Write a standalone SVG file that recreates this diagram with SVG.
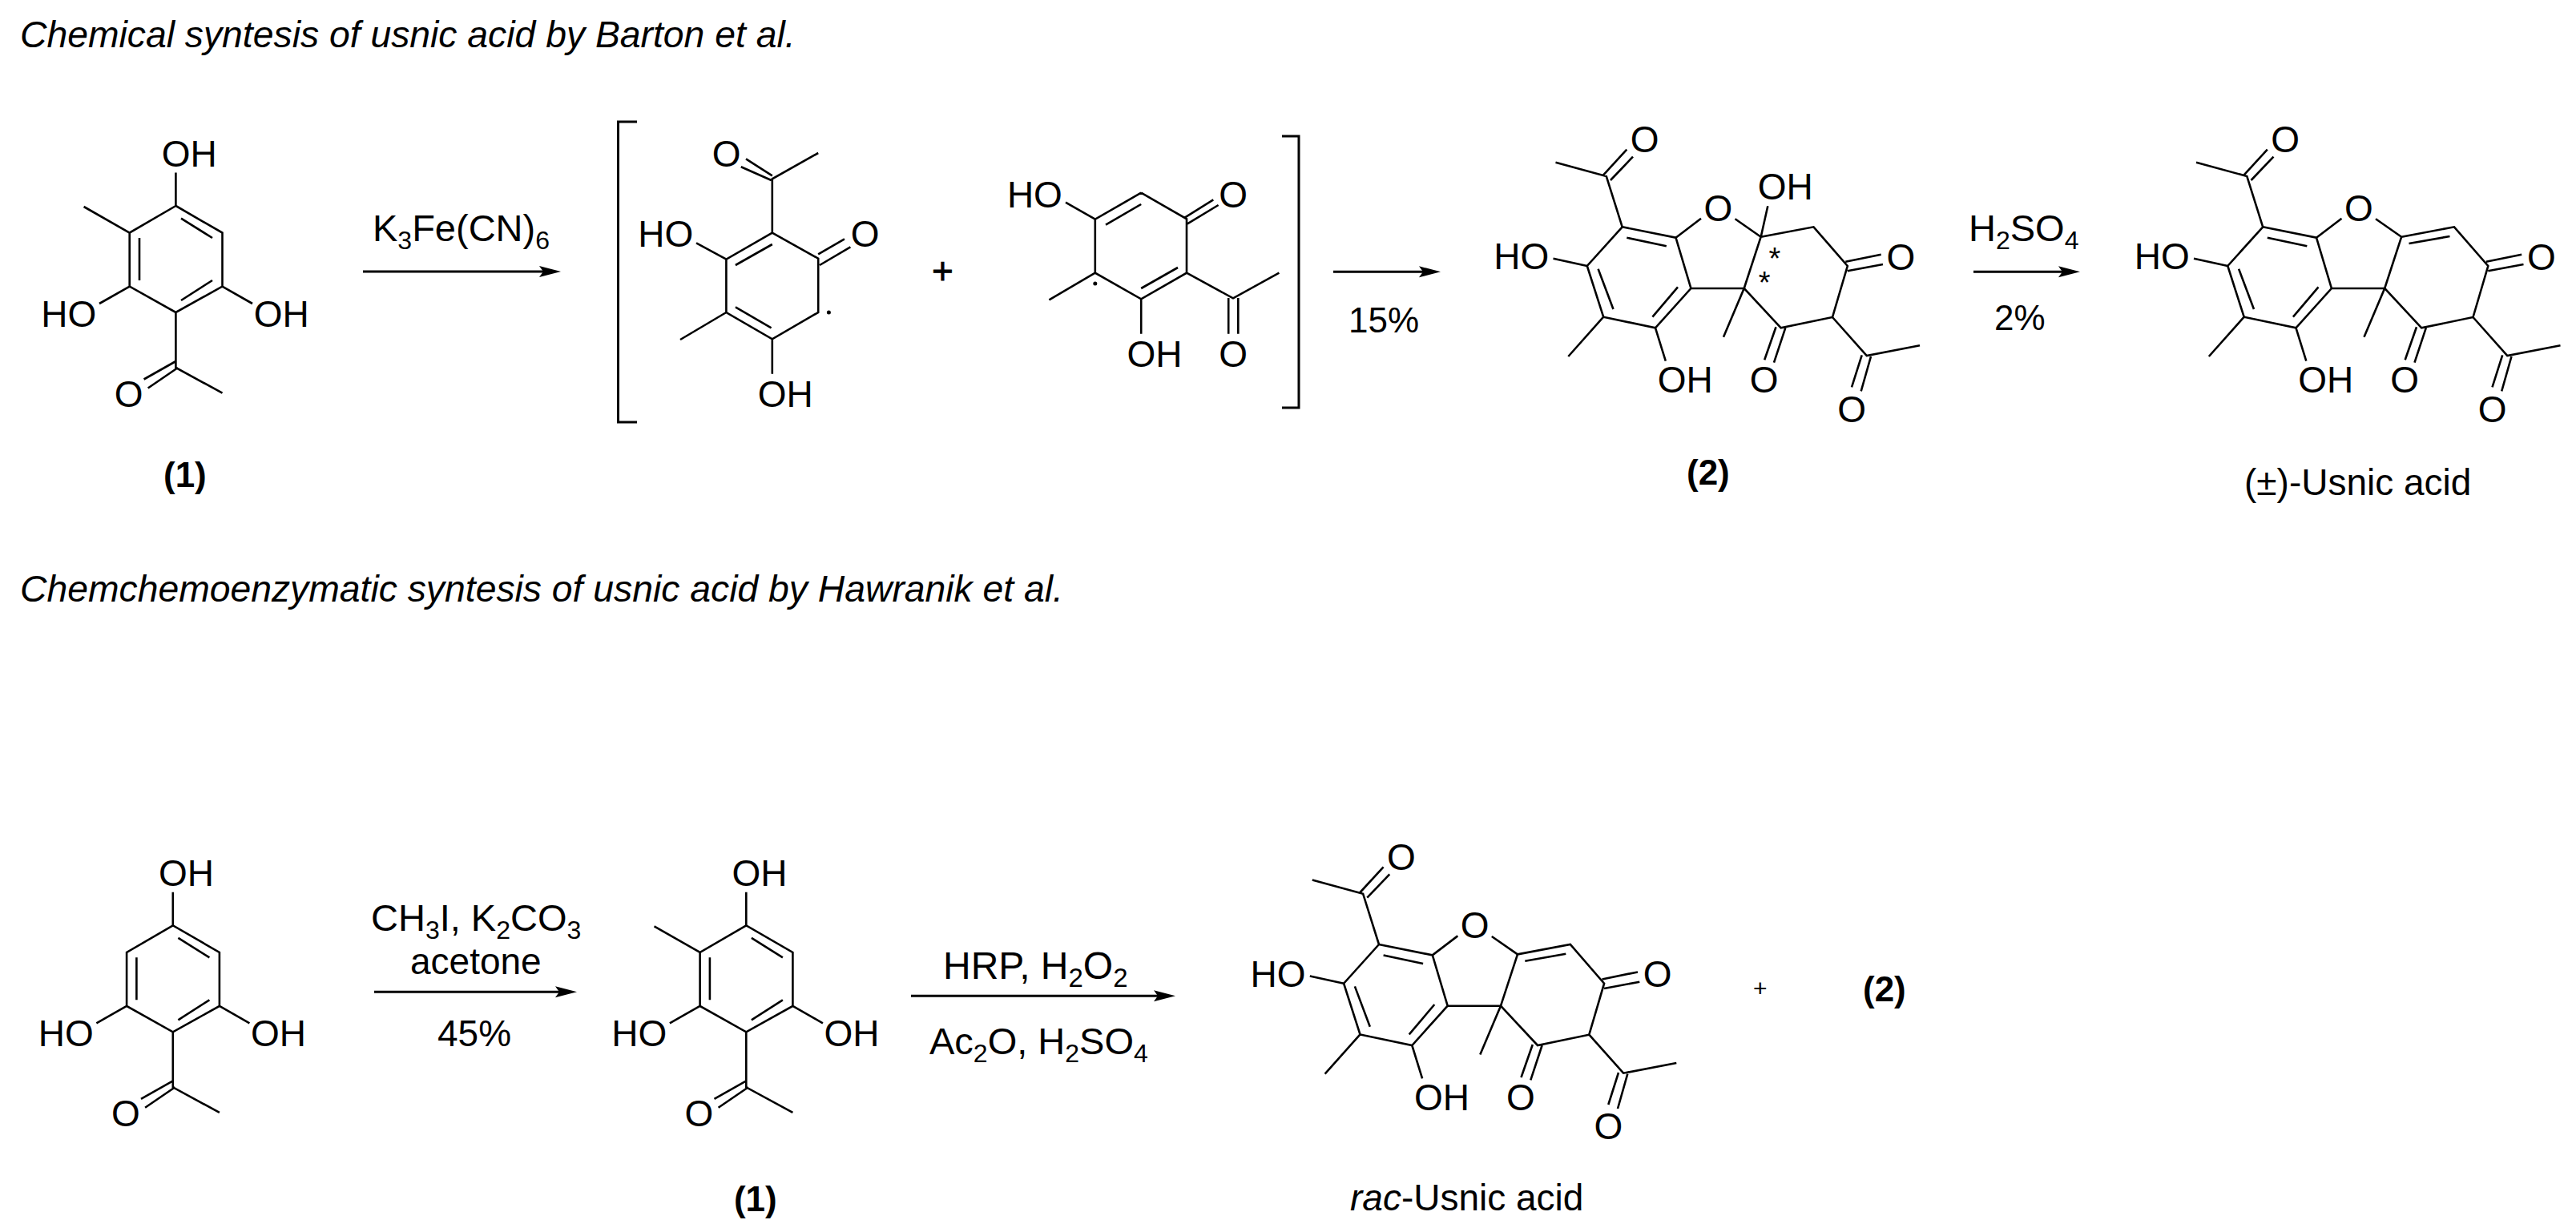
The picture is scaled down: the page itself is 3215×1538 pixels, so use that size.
<svg xmlns="http://www.w3.org/2000/svg" width="3215" height="1538" viewBox="0 0 3215 1538">
<style>
text{font-family:"Liberation Sans",Arial,sans-serif;font-size:46px;fill:#000}
.h{font-style:italic;font-size:46.3px}
.r{font-size:47px}
.r2{font-size:48px}
.y{font-size:44px}
.b{font-weight:700;font-size:44px}
.s{font-size:32px}
.s2{font-size:33px}
.bond{fill:none;stroke:#000;stroke-width:2.6}
.arrow{fill:none;stroke:#000;stroke-width:3;marker-end:url(#head)}
.brk{fill:none;stroke:#000;stroke-width:3}
</style>
<defs>
<marker id="head" markerUnits="userSpaceOnUse" markerWidth="30" markerHeight="16" refX="17" refY="8" orient="auto"><path d="M0 1L27 8L0 15L5 8Z" fill="#000"/></marker>
</defs>
<rect width="3215" height="1538" fill="#fff"/>
<g id="titles">
<text class="h" x="25" y="59">Chemical syntesis of usnic acid by Barton et al.</text>
<text class="h" x="25" y="751">Chemchemoenzymatic syntesis of usnic acid by Hawranik et al.</text>
</g>
<g id="connectors">
<line class="arrow" x1="453" y1="339" x2="690" y2="339"/>
<line class="arrow" x1="1664" y1="339.3" x2="1788" y2="339.3"/>
<line class="arrow" x1="2463" y1="339.3" x2="2586" y2="339.3"/>
<line class="arrow" x1="467" y1="1238.3" x2="710" y2="1238.3"/>
<line class="arrow" x1="1137" y1="1243.3" x2="1457" y2="1243.3"/>
</g>
<g id="node-1a">
<path class="bond" d="M219.4 215.5V257L277.5 290.6V357.6L219.4 390L161.7 357.6V290.6L219.4 257M226 272.6L265 297M174 297V350M265 350L226 375M161.7 290.6L104.6 258M161.7 357.6L124 379M277.5 357.6L315 379M219.4 390V459L277.5 490.6M219.4 451L179.6 473.5M222 459L184.7 484.5"/>
<text x="201.7" y="208">OH</text><text x="51.3" y="408">HO</text><text x="316.7" y="408">OH</text><text x="142.7" y="508">O</text>
<text class="b" x="204" y="608">(1)</text>
</g>
<g id="reagent-1"><text class="r" x="465" y="301">K<tspan class="s" dy="10">3</tspan><tspan dy="-10">Fe(CN)</tspan><tspan class="s" dy="10">6</tspan></text></g>
<g id="bracket-left"><path class="brk" d="M795 152H771.5V527H795"/></g>
<g id="radical-a">
<path class="bond" d="M963.8 290.7L1021.2 322.7V390L963.8 423.3L906.4 390V323.7L963.8 290.7M963.8 305L917.9 331M917.9 383.3L962.6 409.3M963.8 290.7V223.3L1021.2 191M963.8 219.3L931 198.3M962.6 225L924.8 208.3M906.4 323.7L869 303.3M1021.2 317.3L1054 298.3M1023 331L1061.4 308.3M906.4 390L849 424M963.8 423.3V466.7"/>
<circle cx="1034.4" cy="390" r="2.5"/>
<text x="888.7" y="208">O</text><text x="796.3" y="308">HO</text><text x="1061.7" y="308">O</text><text x="945.7" y="508">OH</text>
</g>
<g id="plus-1"><text x="1163" y="354" stroke="#000" stroke-width="0.8">+</text></g>
<g id="radical-b">
<path class="bond" d="M1424.2 240.7L1481 273.3V340.7L1424.2 373.3L1366.8 340.7V273.7L1424.2 240.7M1424.2 255L1380 280.7M1470 334L1424.2 360M1366.8 273.7L1330 252.7M1478.7 271.7L1514.3 249.3M1482 279.3L1520.6 256M1481 340.7L1539 372.3L1596.4 340.7M1533.2 372V416.7M1545.3 372V416.7M1366.8 340.7L1309.4 374.3M1424.2 373.3V416.7"/>
<circle cx="1366.8" cy="354" r="2.5"/>
<text x="1256.9" y="259">HO</text><text x="1521.2" y="259">O</text><text x="1521.2" y="458">O</text><text x="1406.4" y="458">OH</text>
</g>
<g id="bracket-right"><path class="brk" d="M1600 170H1621V509H1600"/></g>
<g id="yield-1"><text class="y" x="1683" y="415">15%</text></g>
<g id="node-2">
<path class="bond" d="M2024.7 283.3L2091.5 296.7L2110.4 360L2066 409.3L2001.2 395.7L1980.8 332L2024.7 283.3M2030.3 296.7L2079.8 307.3M1994.6 335.7L2013.5 386M2094 358.3L2062.4 395.7M2024.7 283.3L2004.8 220L1941.5 202.7M2001.2 218.3L2030.3 186.7M2010 225L2038 195.7M2091.5 296.7L2123 272.7M2165.5 273.3L2197.7 295.7M2197.7 295.7L2206.3 257.3M2197.7 295.7L2263.5 283.3L2305.8 332L2287 396L2222.7 409.3L2176.7 360L2197.7 295.7M2303.3 326.7L2347.7 317.7M2305.8 338.3L2350 330M2110.4 360H2176.7L2151 420.7M2066 409.3L2078.8 450.7M2216.5 408.3L2202.2 449.3M2228.3 409.3L2214 452.7M2287 396L2329.8 444L2396 431.3M2323.7 443.3L2311 483.3M2335 445L2322.7 488.3M1980.8 332L1938.5 322.7M2001.2 395.7L1957.3 445"/>
<text x="2034.7" y="190">O</text><text x="2126.5" y="275.7">O</text><text x="2193.7" y="249.3">OH</text><text x="2354.5" y="336.7">O</text><text x="2068.7" y="490">OH</text><text x="2183.7" y="490">O</text><text x="2293.3" y="526.7">O</text><text x="1864.3" y="336">HO</text>
<text style="font-size:38px" x="2207.6" y="335.7">*</text><text style="font-size:38px" x="2194.7" y="365.7">*</text>
<text class="b" x="2105" y="605">(2)</text>
</g>
<g id="reagent-2"><text class="r" x="2457" y="300.7">H<tspan class="s" dy="10">2</tspan><tspan dy="-10">SO</tspan><tspan class="s" dy="10">4</tspan></text><text class="y" x="2489" y="411.7">2%</text></g>
<g id="usnic-top" transform="translate(799.5 0)">
<path class="bond" d="M2024.7 283.3L2091.5 296.7L2110.4 360L2066 409.3L2001.2 395.7L1980.8 332L2024.7 283.3M2030.3 296.7L2079.8 307.3M1994.6 335.7L2013.5 386M2094 358.3L2062.4 395.7M2024.7 283.3L2004.8 220L1941.5 202.7M2001.2 218.3L2030.3 186.7M2010 225L2038 195.7M2091.5 296.7L2123 272.7M2165.5 273.3L2197.7 295.7M2197.7 295.7L2263.5 283.3L2305.8 332L2287 396L2222.7 409.3L2176.7 360L2197.7 295.7M2207 304L2258 295M2303.3 326.7L2347.7 317.7M2305.8 338.3L2350 330M2110.4 360H2176.7L2151 420.7M2066 409.3L2078.8 450.7M2216.5 408.3L2202.2 449.3M2228.3 409.3L2214 452.7M2287 396L2329.8 444L2396 431.3M2323.7 443.3L2311 483.3M2335 445L2322.7 488.3M1980.8 332L1938.5 322.7M2001.2 395.7L1957.3 445"/>
<text x="2034.7" y="190">O</text><text x="2126.5" y="275.7">O</text><text x="2354.5" y="336.7">O</text><text x="2068.7" y="490">OH</text><text x="2183.7" y="490">O</text><text x="2293.3" y="526.7">O</text><text x="1864.3" y="336">HO</text>
</g>
<g id="label-usnic-top"><text x="2801" y="618">(±)-Usnic acid</text></g>
<g id="phloro" transform="translate(-3.6 898.3)">
<path class="bond" d="M219.4 215.5V257L277.5 290.6V357.6L219.4 390L161.7 357.6V290.6L219.4 257M226 272.6L265 297M174 297V350M265 350L226 375M161.7 357.6L124 379M277.5 357.6L315 379M219.4 390V459L277.5 490.6M219.4 451L179.6 473.5M222 459L184.7 484.5"/>
<text x="201.7" y="208">OH</text><text x="51.3" y="408">HO</text><text x="316.7" y="408">OH</text><text x="142.7" y="508">O</text>
</g>
<g id="reagent-3"><text class="r" x="463" y="1162.3">CH<tspan class="s" dy="10">3</tspan><tspan dy="-10">I, K</tspan><tspan class="s" dy="10">2</tspan><tspan dy="-10">CO</tspan><tspan class="s" dy="10">3</tspan></text><text x="512" y="1215.7">acetone</text><text x="546" y="1305.7">45%</text></g>
<g id="node-1b" transform="translate(711.9 898.3)">
<path class="bond" d="M219.4 215.5V257L277.5 290.6V357.6L219.4 390L161.7 357.6V290.6L219.4 257M226 272.6L265 297M174 297V350M265 350L226 375M161.7 290.6L104.6 258M161.7 357.6L124 379M277.5 357.6L315 379M219.4 390V459L277.5 490.6M219.4 451L179.6 473.5M222 459L184.7 484.5"/>
<text x="201.7" y="208">OH</text><text x="51.3" y="408">HO</text><text x="316.7" y="408">OH</text><text x="142.7" y="508">O</text>
<text class="b" x="204" y="613.4">(1)</text>
</g>
<g id="reagent-4"><text class="r2" x="1177" y="1221.7">HRP, H<tspan class="s2" dy="10">2</tspan><tspan dy="-10">O</tspan><tspan class="s2" dy="10">2</tspan></text><text class="r" x="1160" y="1315.7">Ac<tspan class="s" dy="10">2</tspan><tspan dy="-10">O, H</tspan><tspan class="s" dy="10">2</tspan><tspan dy="-10">SO</tspan><tspan class="s" dy="10">4</tspan></text></g>
<g id="usnic-bottom" transform="translate(-303.7 895.7)">
<path class="bond" d="M2024.7 283.3L2091.5 296.7L2110.4 360L2066 409.3L2001.2 395.7L1980.8 332L2024.7 283.3M2030.3 296.7L2079.8 307.3M1994.6 335.7L2013.5 386M2094 358.3L2062.4 395.7M2024.7 283.3L2004.8 220L1941.5 202.7M2001.2 218.3L2030.3 186.7M2010 225L2038 195.7M2091.5 296.7L2123 272.7M2165.5 273.3L2197.7 295.7M2197.7 295.7L2263.5 283.3L2305.8 332L2287 396L2222.7 409.3L2176.7 360L2197.7 295.7M2207 304L2258 295M2303.3 326.7L2347.7 317.7M2305.8 338.3L2350 330M2110.4 360H2176.7L2151 420.7M2066 409.3L2078.8 450.7M2216.5 408.3L2202.2 449.3M2228.3 409.3L2214 452.7M2287 396L2329.8 444L2396 431.3M2323.7 443.3L2311 483.3M2335 445L2322.7 488.3M1980.8 332L1938.5 322.7M2001.2 395.7L1957.3 445"/>
<text x="2034.7" y="190">O</text><text x="2126.5" y="275.7">O</text><text x="2354.5" y="336.7">O</text><text x="2068.7" y="490">OH</text><text x="2183.7" y="490">O</text><text x="2293.3" y="526.7">O</text><text x="1864.3" y="336">HO</text>
</g>
<g id="label-usnic-bottom"><text x="1685" y="1510.7"><tspan font-style="italic">rac</tspan>-Usnic acid</text></g>
<g id="plus-2"><text style="font-size:30px" x="2188" y="1244">+</text></g>
<g id="node-2-ref"><text class="b" x="2325" y="1250">(2)</text></g>
</svg>
